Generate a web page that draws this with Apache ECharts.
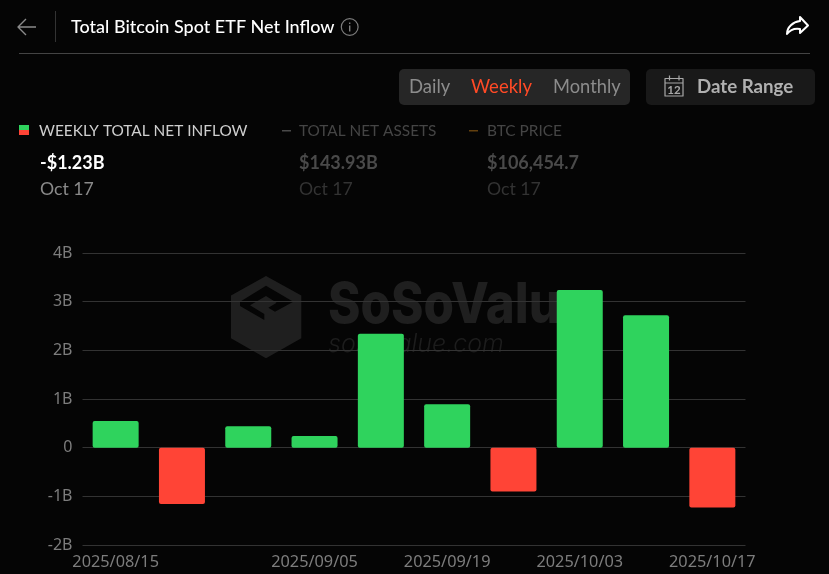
<!DOCTYPE html>
<html>
<head>
<meta charset="utf-8">
<title>Total Bitcoin Spot ETF Net Inflow</title>
<style>
  html, body { margin: 0; padding: 0; background: #050505; }
  #main { width: 829px; height: 574px; }
</style>
<script src="https://cdn.jsdelivr.net/npm/echarts@6/dist/echarts.min.js"></script>
</head>
<body>
<div id="main"></div>
<script>
// weekly net inflow, in billions of USD
const weeks = ['2025/08/15', '2025/08/22', '2025/08/29', '2025/09/05', '2025/09/12',
  '2025/09/19', '2025/09/26', '2025/10/03', '2025/10/10', '2025/10/17'];
const netInflow = [0.55, -1.16, 0.44, 0.24, 2.34, 0.89, -0.90, 3.24, 2.72, -1.23];
const shownWeeks = ['2025/08/15', '2025/09/05', '2025/09/19', '2025/10/03', '2025/10/17'];
const yTicks = { min: -2, max: 4, interval: 1 };

const GREEN = '#2fd35d';
const RED = '#ff4436';
const FONT = 'Lato';

// icon outlines, registered as shapes so the graphic component can draw them
const icons = {
  backArrow: 'M36 27 L18 27 M26 19 L18 27 L26 35',
  shareArrow: 'M800 17 L808 25.5 L800 33 L800 29 C794 28 790 30 787 34 C787 27 793 22 800 21 Z',
  calendar: 'M665 78.5 L683 78.5 L683 96 L665 96 Z M665 83 L683 83 M669.5 75.5 L669.5 80.5 M679 75.5 L679 80.5',
  logo: 'M266 276 L301.3 295.5 L301.3 338.3 L266 358.3 L231 338.3 L231 295.5 Z '
    + 'M266 285.7 L240 301.7 L240 306 L264.3 320 L264.3 314 L250 305.3 L266 296 L276.7 302.7 L268.3 307.7 L275 311.7 L293.3 301.7 Z '
    + 'M240 318.7 L256.7 328.3 L256.7 334 L240 324.3 Z '
    + 'M275 322.3 L286 316 L286 326.7 L275 333.3 Z '
    + 'M265.4 320 L266.8 320 L266.8 346 L265.4 346 Z'
};
Object.keys(icons).forEach(k => {
  echarts.graphic.registerShape(k, echarts.graphic.extendPath(icons[k], {}));
});

function label(x, y, text, size, fill, weight, extra) {
  return {
    type: 'text', x: x, y: y, z: 10, silent: true,
    style: Object.assign({
      text: text, fill: fill, fontFamily: FONT, fontSize: size,
      fontWeight: weight || 400, verticalAlign: 'middle'
    }, extra || {})
  };
}
function box(x, y, w, h, r, fill, z) {
  return { type: 'rect', z: z === undefined ? 1 : z, silent: true,
    shape: { x: x, y: y, width: w, height: h, r: r }, style: { fill: fill } };
}
function stroked(name, color, width) {
  return { type: name, z: 5, silent: true,
    style: { fill: 'none', stroke: color, lineWidth: width, lineJoin: 'round' } };
}

const headerItems = [
  // back arrow + title
  stroked('backArrow', '#8a8a8a', 1.4),
  box(55, 11, 1, 31, 0, '#333333'),
  label(71, 27, 'Total Bitcoin Spot ETF Net Inflow', 18, '#ffffff', 500),
  { type: 'circle', z: 5, silent: true, shape: { cx: 349.7, cy: 27, r: 8.4 },
    style: { fill: 'none', stroke: '#7d7d7d', lineWidth: 1.2 } },
  box(349, 25.5, 1.4, 6, 0, '#7d7d7d', 5),
  box(349, 22.5, 1.4, 1.6, 0, '#7d7d7d', 5),
  stroked('shareArrow', '#ffffff', 2),
  box(19, 53, 791, 1, 0, '#444444'),

  // period switch
  box(399, 69, 231, 36, 5, '#262626'),
  label(409, 87, 'Daily', 18.5, '#8c8c8c'),
  label(471, 87, 'Weekly', 18.5, '#ff4a26'),
  label(553, 87, 'Monthly', 18.3, '#8c8c8c'),
  box(646, 69, 169, 36, 5, '#191919'),
  stroked('calendar', '#a8a8a8', 1.2),
  label(674, 90, '12', 11.5, '#a8a8a8', 700, { align: 'center' }),
  label(697, 87, 'Date Range', 18.7, '#b0b0b0', 700),

  // legend row
  box(19, 125, 10, 5, 0, GREEN, 5),
  box(19, 130, 10, 5, 0, RED, 5),
  label(39, 131, 'WEEKLY TOTAL NET INFLOW', 15.4, '#cfcfcf'),
  label(40, 163.5, '-$1.23B', 18, '#ffffff', 700),
  label(40, 189.5, 'Oct 17', 17.7, '#8a8a8a'),

  box(282, 130, 9, 1.5, 0, '#4a4a4a', 5),
  label(299, 131, 'TOTAL NET ASSETS', 15.35, '#454545'),
  label(299, 163.5, '$143.93B', 18, '#4a4a4a', 700),
  label(299, 189.5, 'Oct 17', 17.7, '#333333'),

  box(469, 130, 9, 1.5, 0, '#63400f', 5),
  label(487, 131, 'BTC PRICE', 15.4, '#454545'),
  label(487, 163.5, '$106,454.7', 18, '#4a4a4a', 700),
  label(487, 189.5, 'Oct 17', 17.7, '#333333')
];

// watermark sits behind grid lines and bars
const watermark = [
  { type: 'logo', z: -2, silent: true, style: { fill: '#1f1f1f', fillRule: 'evenodd' } },
  { type: 'text', x: 328, y: 306, scaleX: 0.88, z: -2, silent: true,
    style: { text: 'SoSoValue', fontFamily: 'Inter', fontWeight: 800, fontSize: 56, fill: '#1f1f1f', verticalAlign: 'middle' } },
  { type: 'text', x: 328, y: 344, z: -2, silent: true,
    style: { text: 'sosovalue.com', fontFamily: 'Inter', fontStyle: 'italic', fontWeight: 300, fontSize: 25, fill: '#1d1d1d', verticalAlign: 'middle' } }
];

const myChart = echarts.init(document.getElementById('main'));
myChart.setOption({
  backgroundColor: '#050505',
  animation: false,
  graphic: { elements: watermark.concat(headerItems) },
  grid: { left: 82.5, right: 83.5, top: 253, bottom: 29 },
  xAxis: {
    type: 'category',
    data: weeks,
    axisLine: { show: false },
    axisTick: { show: false },
    axisLabel: {
      color: '#7d7d7d', fontSize: 16.3, fontFamily: 'Noto Sans', margin: 9,
      interval: (i, name) => shownWeeks.includes(name)
    }
  },
  yAxis: {
    type: 'value',
    min: yTicks.min,
    max: yTicks.max,
    interval: yTicks.interval,
    axisLine: { show: false },
    axisTick: { show: false },
    splitLine: { lineStyle: { color: '#333333', width: 1 } },
    axisLabel: {
      color: '#7d7d7d', fontSize: 16, fontFamily: 'Noto Sans', margin: 10,
      padding: [2, 0, 0, 0],
      formatter: v => (v === 0 ? '0' : v + 'B')
    }
  },
  series: [{
    name: 'Weekly Total Net Inflow',
    type: 'bar',
    data: netInflow,
    barWidth: 46,
    itemStyle: {
      borderRadius: 2,
      color: p => (p.value >= 0 ? GREEN : RED)
    }
  }]
});
</script>
</body>
</html>
